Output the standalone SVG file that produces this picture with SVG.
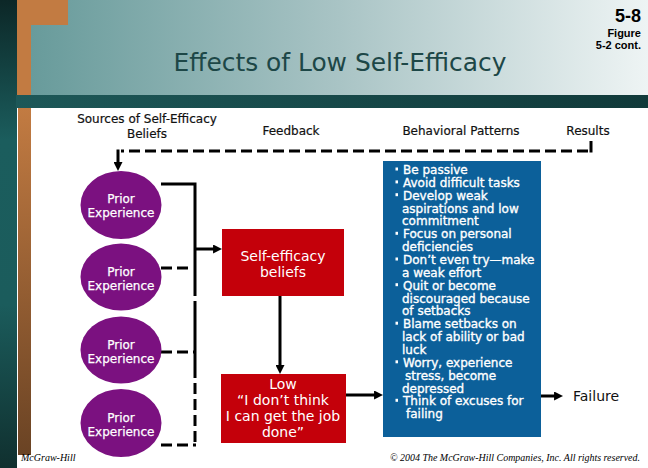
<svg xmlns="http://www.w3.org/2000/svg" width="648" height="468" viewBox="0 0 648 468">
  <defs>
    <linearGradient id="gStripe" x1="0" y1="0" x2="0" y2="1">
      <stop offset="0" stop-color="#0c2727"/>
      <stop offset="0.3" stop-color="#1b5d5d"/>
      <stop offset="0.65" stop-color="#1b5c5c"/>
      <stop offset="1" stop-color="#10302f"/>
    </linearGradient>
    <linearGradient id="gHeader" x1="0" y1="0" x2="1" y2="0">
      <stop offset="0" stop-color="#689b9b"/>
      <stop offset="0.5" stop-color="#a9c4c5"/>
      <stop offset="1" stop-color="#eef4f4"/>
    </linearGradient>
    <linearGradient id="gBand" x1="0" y1="0" x2="1" y2="0">
      <stop offset="0" stop-color="#1d5858"/>
      <stop offset="1" stop-color="#113a3a"/>
    </linearGradient>
    <linearGradient id="gOrange" x1="0" y1="0" x2="0" y2="1">
      <stop offset="0" stop-color="#c27b42"/>
      <stop offset="1" stop-color="#6a4324"/>
    </linearGradient>
    <marker id="arr" viewBox="0 0 10 10" markerWidth="9" markerHeight="9" refX="5.5" refY="5" orient="auto" markerUnits="userSpaceOnUse">
      <path d="M0,0 L10,5 L0,10 z" fill="#000"/>
    </marker>
    <style>
      .hdr { font-family: "DejaVu Sans", Verdana, sans-serif; font-size: 12px; fill: #111; text-anchor: middle; stroke: #111; stroke-width: 0.2; }
      .circ { fill: #7b1180; }
      .ctext { font-family: "DejaVu Sans", Verdana, sans-serif; font-size: 12px; fill: #fff; text-anchor: middle; stroke: #fff; stroke-width: 0.25; }
      .rbox { fill: #c4000a; }
      .rtext { font-family: "DejaVu Sans", Verdana, sans-serif; font-size: 14px; fill: #fff; text-anchor: middle; }
      .btext { font-family: "DejaVu Sans", Verdana, sans-serif; font-size: 12px; fill: #fff; stroke: #fff; stroke-width: 0.35; }
      .solid { fill: none; stroke: #000; stroke-width: 3; }
      .dash { fill: none; stroke: #000; stroke-width: 3; stroke-dasharray: 11 5; }
      .narrow { font-family: "Liberation Sans Narrow", "Liberation Sans", Arial, sans-serif; font-weight: bold; fill: #000; text-anchor: end; }
      .copy { font-family: "Liberation Serif", "Times New Roman", serif; font-style: italic; fill: #000; }
    </style>
  </defs>

  <!-- background -->
  <rect x="0" y="0" width="648" height="468" fill="#ffffff"/>
  <rect x="31" y="0" width="617" height="95" fill="url(#gHeader)"/>
  <rect x="0" y="0" width="17" height="468" fill="url(#gStripe)"/>
  <rect x="17" y="0" width="14" height="95" fill="#c27b42"/>
  <rect x="17" y="0" width="51" height="25" fill="#c27b42"/>
  <rect x="16" y="95" width="632" height="13" fill="url(#gBand)"/>
  <rect x="18" y="108" width="13" height="347" fill="url(#gOrange)"/>

  <!-- titles -->
  <text x="340" y="71" font-family="DejaVu Sans, Verdana, sans-serif" font-size="25" fill="#1d4747" text-anchor="middle" textLength="333" lengthAdjust="spacingAndGlyphs">Effects of Low Self-Efficacy</text>
  <text class="narrow" x="641" y="22" font-size="18">5-8</text>
  <text class="narrow" x="641" y="37" font-size="11">Figure</text>
  <text class="narrow" x="641" y="49" font-size="11">5-2 cont.</text>

  <!-- column headers -->
  <text class="hdr" x="147" y="123">Sources of Self-Efficacy</text>
  <text class="hdr" x="147" y="138">Beliefs</text>
  <text class="hdr" x="291" y="135">Feedback</text>
  <text class="hdr" x="461" y="135">Behavioral Patterns</text>
  <text class="hdr" x="588" y="135">Results</text>

  <!-- connectors -->
  <g id="connectors">
    <path class="dash" d="M588,151 H121"/>
    <path class="solid" d="M591,141 V152.5"/>
    <path class="solid" d="M118,149.5 V167" marker-end="url(#arr)"/>
    <path class="solid" d="M161,184 H195 V296"/>
    <path class="solid" d="M195,301 V367"/>
    <path class="dash" d="M195,367 V447" stroke-dasharray="12 5"/>
    <path class="dash" d="M161,268 H189" stroke-dasharray="12 5"/>
    <path class="dash" d="M161,352 H195" stroke-dasharray="12 5"/>
    <path class="dash" d="M161,445 H196" stroke-dasharray="12 5"/>
    <path class="solid" d="M195,249 H218" marker-end="url(#arr)"/>
    <path class="solid" d="M280,296 V370" marker-end="url(#arr)"/>
    <path class="solid" d="M346,395 H379" marker-end="url(#arr)"/>
    <path class="solid" d="M541,396 H559" marker-end="url(#arr)"/>
  </g>

  <!-- source nodes -->
  <g id="prior1">
    <ellipse class="circ" cx="121" cy="205" rx="40.5" ry="34"/>
    <text class="ctext" x="121" y="203">Prior</text>
    <text class="ctext" x="121" y="217">Experience</text>
  </g>
  <g id="prior2">
    <ellipse class="circ" cx="121" cy="277" rx="40.5" ry="33.5"/>
    <text class="ctext" x="121" y="276">Prior</text>
    <text class="ctext" x="121" y="290">Experience</text>
  </g>
  <g id="prior3">
    <ellipse class="circ" cx="121" cy="350" rx="40.5" ry="33.5"/>
    <text class="ctext" x="121" y="349">Prior</text>
    <text class="ctext" x="121" y="363">Experience</text>
  </g>
  <g id="prior4">
    <ellipse class="circ" cx="121" cy="423" rx="40.5" ry="34"/>
    <text class="ctext" x="121" y="422">Prior</text>
    <text class="ctext" x="121" y="436">Experience</text>
  </g>

  <!-- self-efficacy beliefs -->
  <g id="selfEfficacy">
    <rect class="rbox" x="222" y="229" width="122" height="67"/>
    <text class="rtext" x="283" y="261">Self-efficacy</text>
    <text class="rtext" x="283" y="277">beliefs</text>
  </g>

  <!-- low -->
  <g id="low">
    <rect class="rbox" x="221" y="374" width="125" height="69"/>
    <text class="rtext" x="283" y="389">Low</text>
    <text class="rtext" x="283" y="405">“I don’t think</text>
    <text class="rtext" x="283" y="421">I can get the job</text>
    <text class="rtext" x="283" y="437">done”</text>
  </g>

  <!-- behavioral patterns -->
  <g id="behaviors">
    <rect x="383" y="161" width="158" height="276" fill="#0c609a"/>
    <g fill="#fff">
      <rect x="395.5" y="167.5" width="2.5" height="3"/>
      <rect x="395.5" y="180.4" width="2.5" height="3"/>
      <rect x="395.5" y="193.2" width="2.5" height="3"/>
      <rect x="395.5" y="231.8" width="2.5" height="3"/>
      <rect x="395.5" y="257.5" width="2.5" height="3"/>
      <rect x="395.5" y="283.2" width="2.5" height="3"/>
      <rect x="395.5" y="321.7" width="2.5" height="3"/>
      <rect x="395.5" y="360.3" width="2.5" height="3"/>
      <rect x="395.5" y="398.8" width="2.5" height="3"/>
    </g>
    <text class="btext" x="403" y="174">Be passive</text>
    <text class="btext" x="403" y="186.9">Avoid difficult tasks</text>
    <text class="btext" x="403" y="199.7">Develop weak</text>
    <text class="btext" x="402" y="212.6">aspirations and low</text>
    <text class="btext" x="402" y="225.4">commitment</text>
    <text class="btext" x="403" y="238.3">Focus on personal</text>
    <text class="btext" x="402" y="251.1">deficiencies</text>
    <text class="btext" x="403" y="264">Don’t even try—make</text>
    <text class="btext" x="402" y="276.8">a weak effort</text>
    <text class="btext" x="403" y="289.7">Quit or become</text>
    <text class="btext" x="402" y="302.5">discouraged because</text>
    <text class="btext" x="402" y="315.4">of setbacks</text>
    <text class="btext" x="403" y="328.2">Blame setbacks on</text>
    <text class="btext" x="402" y="341.1">lack of ability or bad</text>
    <text class="btext" x="402" y="353.9">luck</text>
    <text class="btext" x="403" y="366.8">Worry, experience</text>
    <text class="btext" x="405" y="379.6">stress, become</text>
    <text class="btext" x="402" y="392.5">depressed</text>
    <text class="btext" x="403" y="405.3">Think of excuses for</text>
    <text class="btext" x="406" y="418.2">failing</text>
  </g>

  <!-- result -->
  <g id="failure">
    <text x="573" y="401" font-family="DejaVu Sans, Verdana, sans-serif" font-size="14" fill="#111">Failure</text>
  </g>

  <!-- footer -->
  <text class="copy" x="21" y="461" font-size="10">McGraw-Hill</text>
  <text class="copy" x="390" y="461" font-size="10" textLength="250" lengthAdjust="spacingAndGlyphs">© 2004 The McGraw-Hill Companies, Inc. All rights reserved.</text>
</svg>
